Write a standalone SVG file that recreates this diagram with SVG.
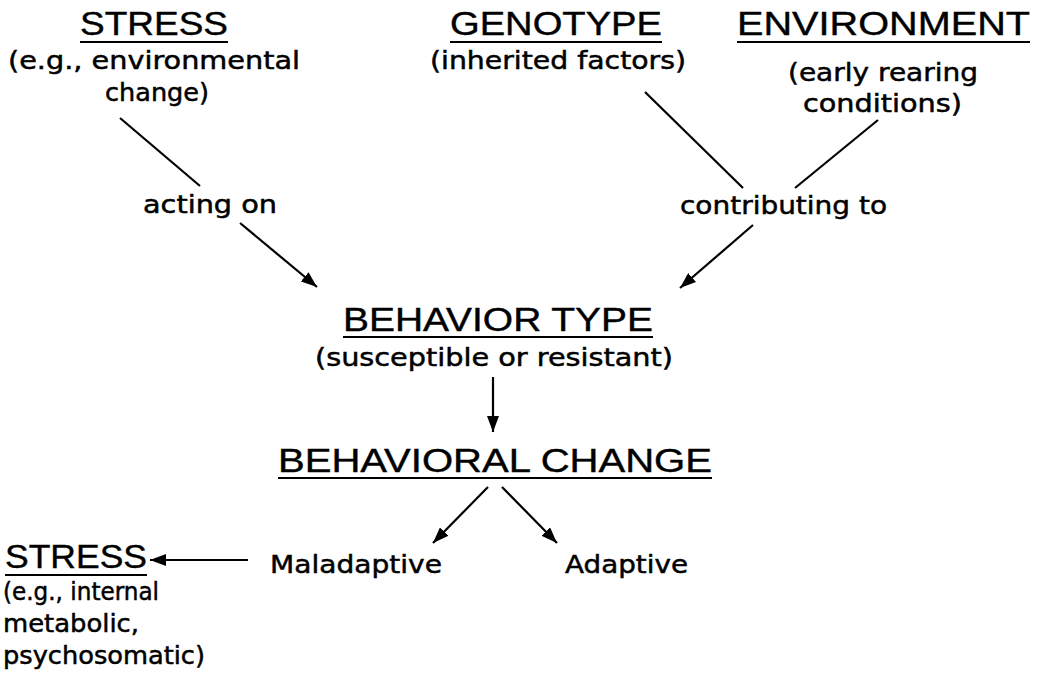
<svg xmlns="http://www.w3.org/2000/svg" width="1037" height="680" viewBox="0 0 1037 680">
<style>
.h{font-family:"Liberation Sans",Arial,sans-serif;font-size:33px;fill:#000;stroke:#000;stroke-width:0.4}
.s{font-family:"DejaVu Sans","Liberation Sans",sans-serif;font-size:25px;fill:#000;stroke:#000;stroke-width:0.5}
.ul{stroke:#000;stroke-width:2}
.c{stroke:#000;stroke-width:2.2;fill:none}
</style>
<defs>
<marker id="ah" markerUnits="userSpaceOnUse" markerWidth="17" markerHeight="12" refX="16" refY="6" orient="auto">
<path d="M0,0 L16,6 L0,12 z" fill="#000"/>
</marker>
</defs>
<rect width="1037" height="680" fill="#fff"/>
<g id="stress-top">
<text class="h" x="80" y="35" textLength="148" lengthAdjust="spacingAndGlyphs">STRESS</text>
<line class="ul" x1="80" y1="42" x2="228" y2="42"/>
<text class="s" x="8" y="69" textLength="292" lengthAdjust="spacingAndGlyphs">(e.g., environmental</text>
<text class="s" x="105" y="101" textLength="104" lengthAdjust="spacingAndGlyphs">change)</text>
</g>
<g id="genotype">
<text class="h" x="450" y="35" textLength="212" lengthAdjust="spacingAndGlyphs">GENOTYPE</text>
<line class="ul" x1="450" y1="42" x2="662" y2="42"/>
<text class="s" x="430" y="69" textLength="256" lengthAdjust="spacingAndGlyphs">(inherited factors)</text>
</g>
<g id="environment">
<text class="h" x="737" y="35" textLength="293" lengthAdjust="spacingAndGlyphs">ENVIRONMENT</text>
<line class="ul" x1="737" y1="42" x2="1030" y2="42"/>
<text class="s" x="788" y="81" textLength="190" lengthAdjust="spacingAndGlyphs">(early rearing</text>
<text class="s" x="803" y="112" textLength="159" lengthAdjust="spacingAndGlyphs">conditions)</text>
</g>
<g id="acting-on">
<text class="s" x="143" y="213" textLength="134" lengthAdjust="spacingAndGlyphs">acting on</text>
</g>
<g id="contributing-to">
<text class="s" x="680" y="214" textLength="207" lengthAdjust="spacingAndGlyphs">contributing to</text>
</g>
<g id="behavior-type">
<text class="h" x="343" y="331" textLength="310" lengthAdjust="spacingAndGlyphs">BEHAVIOR TYPE</text>
<line class="ul" x1="343" y1="337" x2="653" y2="337"/>
<text class="s" x="315" y="366" textLength="358" lengthAdjust="spacingAndGlyphs">(susceptible or resistant)</text>
</g>
<g id="behavioral-change">
<text class="h" x="278" y="472" textLength="434" lengthAdjust="spacingAndGlyphs">BEHAVIORAL CHANGE</text>
<line class="ul" x1="278" y1="478" x2="712" y2="478"/>
</g>
<g id="maladaptive">
<text class="s" x="270" y="573" textLength="172" lengthAdjust="spacingAndGlyphs">Maladaptive</text>
</g>
<g id="adaptive">
<text class="s" x="565" y="573" textLength="123" lengthAdjust="spacingAndGlyphs">Adaptive</text>
</g>
<g id="stress-bottom">
<text class="h" x="5" y="568" textLength="142" lengthAdjust="spacingAndGlyphs">STRESS</text>
<line class="ul" x1="5" y1="575" x2="147" y2="575"/>
<text class="s" x="3" y="600" textLength="156" lengthAdjust="spacingAndGlyphs">(e.g., internal</text>
<text class="s" x="3" y="632" textLength="136" lengthAdjust="spacingAndGlyphs">metabolic,</text>
<text class="s" x="3" y="664" textLength="202" lengthAdjust="spacingAndGlyphs">psychosomatic)</text>
</g>
<g id="connectors">
<line class="c" x1="120" y1="118" x2="200" y2="186"/>
<line class="c" x1="240" y1="223" x2="317" y2="287" marker-end="url(#ah)"/>
<line class="c" x1="645" y1="92" x2="743" y2="188"/>
<line class="c" x1="878" y1="120" x2="795" y2="188"/>
<line class="c" x1="753" y1="225" x2="680" y2="288" marker-end="url(#ah)"/>
<line class="c" x1="493" y1="377" x2="493" y2="432" marker-end="url(#ah)"/>
<line class="c" x1="488" y1="487" x2="433" y2="543" marker-end="url(#ah)"/>
<line class="c" x1="502" y1="487" x2="557" y2="543" marker-end="url(#ah)"/>
<line class="c" x1="248" y1="560" x2="150" y2="560" marker-end="url(#ah)"/>
</g>
</svg>
